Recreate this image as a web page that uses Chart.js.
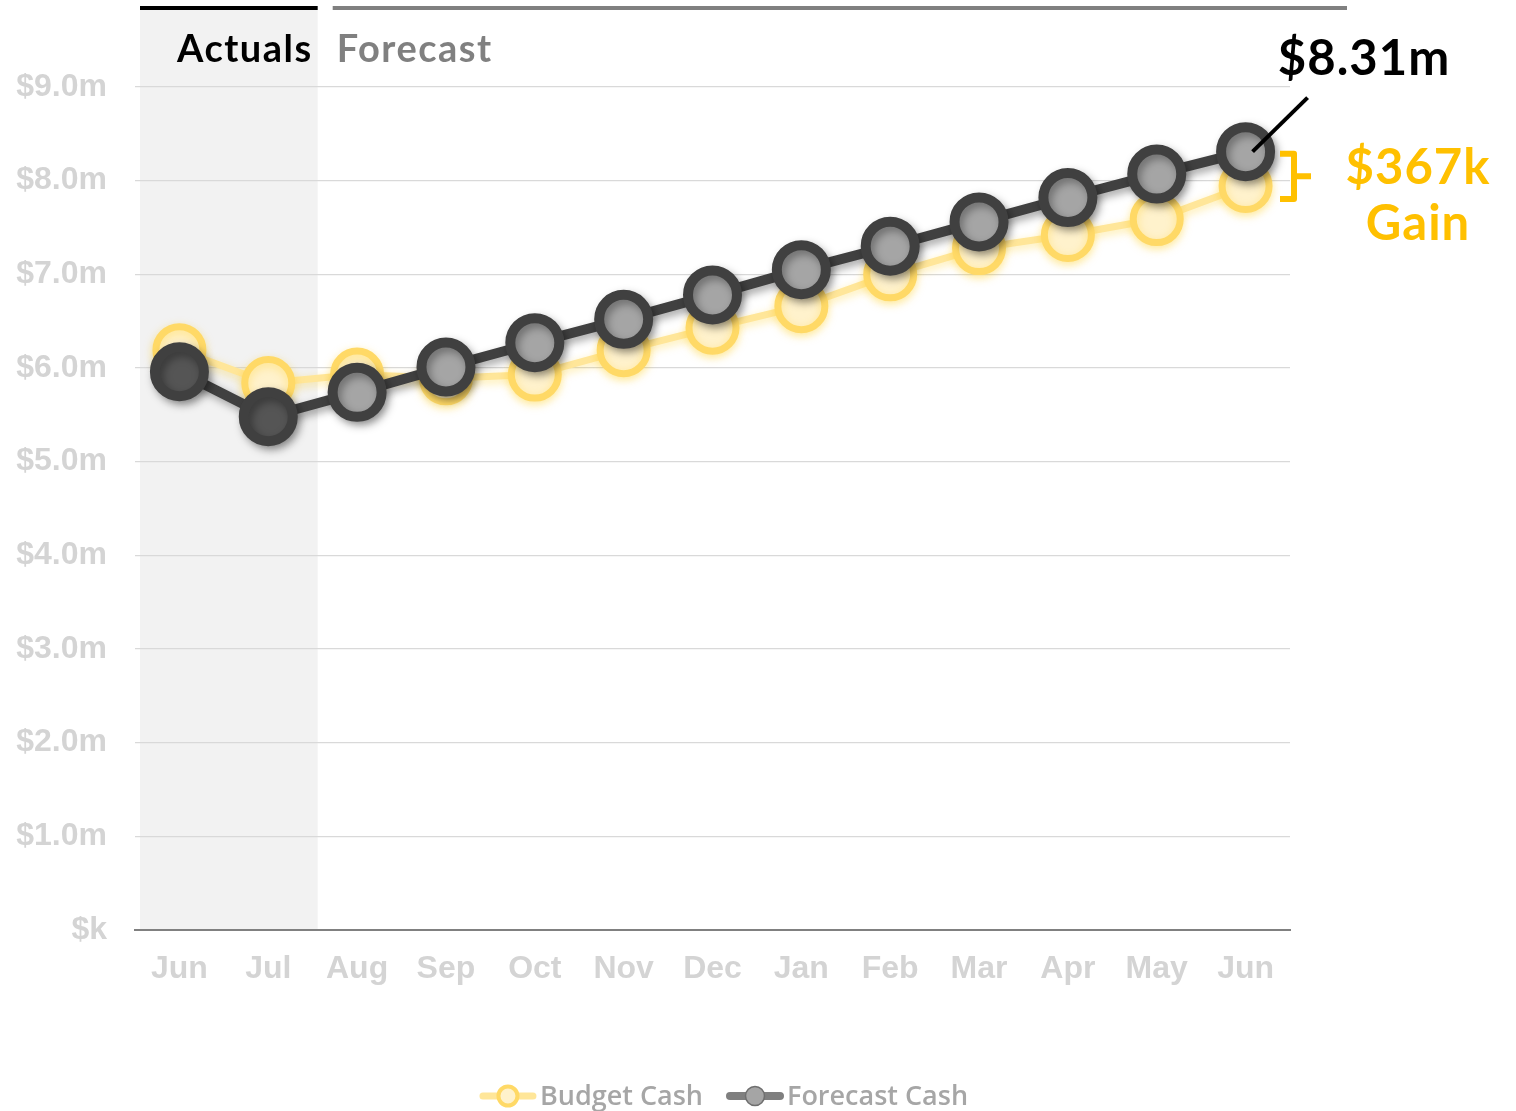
<!DOCTYPE html>
<html><head><meta charset="utf-8">
<script src="https://cdn.jsdelivr.net/npm/chart.js@4.4.1/dist/chart.umd.min.js"></script>
<style>html,body{margin:0;padding:0;background:#fff;overflow:hidden}#wrap{width:1516px;height:1111px;position:relative}</style>
</head><body><div id="wrap"><canvas id="c"></canvas></div>
<script>
// ---- data ----
const months = ['Jun','Jul','Aug','Sep','Oct','Nov','Dec','Jan','Feb','Mar','Apr','May','Jun'];
const budgetCash = [6.19,5.84,5.93,5.89,5.93,6.19,6.43,6.66,7.00,7.28,7.42,7.59,7.943];
const forecastCash = [5.96,5.48,5.74,6.01,6.27,6.52,6.78,7.05,7.30,7.56,7.82,8.07,8.31];
const actualsCount = 2;
const seriesNames = ['Budget Cash','Forecast Cash'];
const periodLabels = ['Actuals','Forecast'];
const yMin = 0, yMax = 9, yStep = 1;

// ---- styles ----
const DARK = '#404040', ACT_FILL = '#555555', FC_FILL = '#a5a5a5';
const Y_LINE = '#ffe699', Y_BORDER = '#ffd966', Y_FILL = '#fff2cc', GOLD = '#ffc000';
const TICK_COLOR = '#d4d4d4';
const HEAD_FONT = 'Lato, "Open Sans", sans-serif';
const LEGEND_FONT = '600 27px "Open Sans", sans-serif';

const shadowPlugin = {
  id: 'shadows',
  beforeDatasetDraw(chart, args) {
    const ctx = chart.ctx;
    ctx.save();
    if (args.index === 0) {
      ctx.shadowColor = 'rgba(0,0,0,0.35)'; ctx.shadowBlur = 8;
      ctx.shadowOffsetX = 3; ctx.shadowOffsetY = 4;
    } else {
      ctx.shadowColor = 'rgba(255,200,0,0.35)'; ctx.shadowBlur = 10;
      ctx.shadowOffsetX = 0; ctx.shadowOffsetY = 3;
    }
  },
  afterDatasetDraw(chart) { chart.ctx.restore(); }
};

function actualsSpan(chart) {
  const x = chart.scales.x;
  const step = x.getPixelForValue(1) - x.getPixelForValue(0);
  return [x.getPixelForValue(0) - step/2 + 5, x.getPixelForValue(actualsCount - 1) + step/2 + 5];
}

function drawLegend(chart) {
  const ctx = chart.ctx;
  const items = [
    { text: seriesNames[0], line: Y_LINE, lw: 7, fill: Y_FILL, border: Y_BORDER, bw: 4 },
    { text: seriesNames[1], line: '#7f7f7f', lw: 8, fill: FC_FILL, border: '#6f6f6f', bw: 1.5 }
  ];
  ctx.save();
  ctx.font = LEGEND_FONT;
  const iconW = 56, gapIcon = 4, gapItem = 24;
  let total = 0;
  items.forEach((it, i) => { it.w = ctx.measureText(it.text).width; total += iconW + gapIcon + it.w + (i ? gapItem : 0); });
  let cx = 724 - total / 2;
  const cy = 1096;
  items.forEach((it, i) => {
    if (i) cx += gapItem;
    ctx.lineCap = 'round';
    ctx.strokeStyle = it.line; ctx.lineWidth = it.lw;
    ctx.beginPath(); ctx.moveTo(cx + 3, cy); ctx.lineTo(cx + iconW - 3, cy); ctx.stroke();
    ctx.beginPath(); ctx.arc(cx + iconW / 2, cy, 9.5, 0, Math.PI * 2);
    ctx.fillStyle = it.fill; ctx.fill();
    ctx.strokeStyle = it.border; ctx.lineWidth = it.bw; ctx.stroke();
    cx += iconW + gapIcon;
    ctx.fillStyle = '#a6a6a6'; ctx.textAlign = 'left'; ctx.textBaseline = 'middle';
    ctx.fillText(it.text, cx, cy + 1);
    cx += it.w;
  });
  ctx.restore();
}

const backdropPlugin = {
  id: 'backdrop',
  beforeDraw(chart) {
    const ctx = chart.ctx, area = chart.chartArea;
    const [x0, x1] = actualsSpan(chart);
    ctx.save();
    ctx.fillStyle = '#f2f2f2';
    ctx.fillRect(x0, 10, x1 - x0, area.bottom - 10);
    ctx.restore();
  },
  afterDraw(chart) {
    const ctx = chart.ctx, x = chart.scales.x, y = chart.scales.y;
    const [x0, x1] = actualsSpan(chart);
    ctx.save();
    // period bars
    ctx.fillStyle = '#000'; ctx.fillRect(x0, 6, x1 - x0, 4);
    ctx.fillStyle = '#808080'; ctx.fillRect(x1 + 15, 6, 1347 - (x1 + 15), 4);
    ctx.letterSpacing = '1.5px';
    ctx.font = 'bold 38px ' + HEAD_FONT;
    ctx.textBaseline = 'alphabetic';
    ctx.textAlign = 'right'; ctx.fillStyle = '#000';
    ctx.fillText(periodLabels[0], x1 - 5, 62);
    ctx.textAlign = 'left'; ctx.fillStyle = '#808080';
    ctx.fillText(periodLabels[1], x1 + 19, 62);

    // last point annotation
    const n = forecastCash.length - 1;
    const px = x.getPixelForValue(n), py = y.getPixelForValue(forecastCash[n]);
    const by = y.getPixelForValue(budgetCash[n]);
    ctx.strokeStyle = '#000'; ctx.lineWidth = 4;
    ctx.beginPath(); ctx.moveTo(px + 7, py); ctx.lineTo(px + 62, py - 54); ctx.stroke();
    ctx.fillStyle = '#000'; ctx.textAlign = 'center';
    ctx.letterSpacing = '1px';
    ctx.font = 'bold 49px ' + HEAD_FONT;
    ctx.fillText('$' + forecastCash[n].toFixed(2) + 'm', 1364, 75);

    // bracket
    const top = py + 2, bot = by + 13, mid = (top + bot) / 2;
    ctx.strokeStyle = GOLD; ctx.lineWidth = 6; ctx.lineJoin = 'round';
    ctx.beginPath();
    ctx.moveTo(1280, top); ctx.lineTo(1294, top); ctx.lineTo(1294, bot); ctx.lineTo(1280, bot);
    ctx.moveTo(1294, mid); ctx.lineTo(1311, mid);
    ctx.stroke();
    const gain = Math.round((forecastCash[n] - budgetCash[n]) * 1000);
    ctx.fillStyle = GOLD;
    ctx.font = 'bold 49px ' + HEAD_FONT;
    ctx.fillText('$' + gain + 'k', 1418, 184);
    ctx.fillText('Gain', 1418, 240);
    ctx.restore();

    drawLegend(chart);
  }
};

const ctxEl = document.getElementById('c');
new Chart(ctxEl, {
  type: 'line',
  data: {
    labels: months,
    datasets: [
      {
        label: seriesNames[1],
        data: forecastCash,
        borderColor: DARK,
        borderWidth: 10,
        pointRadius: 24.5,
        pointBorderWidth: 10,
        pointBorderColor: DARK,
        pointBackgroundColor: (c) => c.dataIndex < actualsCount ? ACT_FILL : FC_FILL,
        tension: 0
      },
      {
        label: seriesNames[0],
        data: budgetCash,
        borderColor: Y_LINE,
        borderWidth: 7,
        pointRadius: 23.5,
        pointBorderWidth: 7,
        pointBorderColor: Y_BORDER,
        pointBackgroundColor: Y_FILL,
        tension: 0
      }
    ]
  },
  options: {
    responsive: true,
    maintainAspectRatio: false,
    animation: false,
    devicePixelRatio: 1,
    layout: { padding: { left: 0, top: 87, right: 226, bottom: 0 } },
    plugins: {
      tooltip: { enabled: false },
      legend: { display: false }
    },
    scales: {
      x: {
        offset: true,
        grid: { display: false, drawTicks: false },
        border: { display: true, color: '#808080', width: 2 },
        ticks: {
          color: TICK_COLOR, padding: 20,
          font: { family: '"Liberation Sans", Arial, sans-serif', size: 32, weight: 'bold' }
        },
        afterFit(s) { s.height = 181; }
      },
      y: {
        min: yMin, max: yMax,
        grid: { color: '#d9d9d9', lineWidth: 1.2, drawTicks: false },
        border: { display: false },
        ticks: {
          stepSize: yStep, color: TICK_COLOR, padding: 28,
          font: { family: '"Liberation Sans", Arial, sans-serif', size: 32, weight: 'bold' },
          callback: (v) => v === 0 ? '$k' : '$' + v.toFixed(1) + 'm'
        },
        afterFit(s) { s.width = 135; }
      }
    }
  },
  plugins: [backdropPlugin, shadowPlugin]
});
</script>
</body></html>
